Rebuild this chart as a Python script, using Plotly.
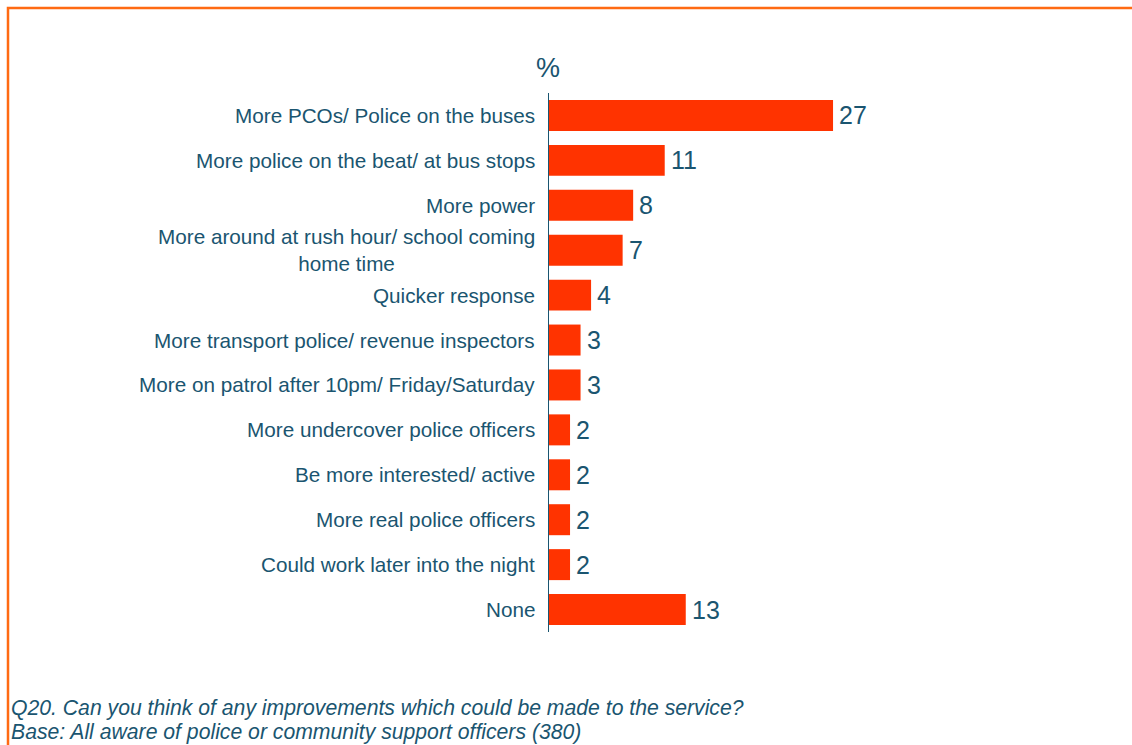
import plotly.graph_objects as go

# Survey responses (% of respondents)
categories = [
    "More PCOs/ Police on the buses",
    "More police on the beat/ at bus stops",
    "More power",
    "More around at rush hour/ school coming<br>home time",
    "Quicker response",
    "More transport police/ revenue inspectors",
    "More on patrol after 10pm/ Friday/Saturday",
    "More undercover police officers",
    "Be more interested/ active",
    "More real police officers",
    "Could work later into the night",
    "None",
]
values = [27, 11, 8, 7, 4, 3, 3, 2, 2, 2, 2, 13]

footnotes = [
    "Q20. Can you think of any improvements which could be made to the service?",
    "Base: All aware of police or community support officers (380)",
]

TEXT = "#1A5570"
BAR = "#FF3300"
FRAME = "#FF6A13"
FONT = "Liberation Sans, Arial, sans-serif"

W, H = 1132, 745
ML, MR, MT, MB = 549, 20, 93, 113
PW, PH = W - ML - MR, H - MT - MB


def px_x(px):
    return (px - ML) / PW


def px_y(py):
    return (H - MB - py) / PH


fig = go.Figure(
    go.Bar(
        x=values,
        y=categories,
        orientation="h",
        marker=dict(color=BAR, line=dict(width=0)),
        width=0.69,
        hoverinfo="skip",
    )
)

annotations = []
# category labels, right-aligned against the axis, multi-line centred
for cat in categories:
    annotations.append(dict(
        x=px_x(537), xref="paper", y=cat, yref="y",
        text=cat, showarrow=False, xanchor="right", yanchor="middle",
        align="center", font=dict(family=FONT, size=20.7, color=TEXT),
    ))
# value labels at the end of each bar
for cat, v in zip(categories, values):
    annotations.append(dict(
        x=v, xref="x", y=cat, yref="y", text=str(v), showarrow=False,
        xanchor="left", yanchor="middle", xshift=4,
        font=dict(family=FONT, size=25, color=TEXT),
    ))
# unit marker above the axis
annotations.append(dict(
    x=px_x(548), xref="paper", y=px_y(68), yref="paper", text="%",
    showarrow=False, xanchor="center", yanchor="middle",
    font=dict(family=FONT, size=27, color=TEXT),
))
# footnotes
for i, note in enumerate(footnotes):
    annotations.append(dict(
        x=px_x(9), xref="paper", y=px_y(708 + 24 * i), yref="paper",
        text=f"<i>{note}</i>", showarrow=False, xanchor="left",
        yanchor="middle", font=dict(family=FONT, size=21.2, color=TEXT),
    ))

# orange frame along the left and top edges
frame_path = (
    f"M {px_x(8)} {px_y(760)} L {px_x(8)} {px_y(8)} L {px_x(1140)} {px_y(8)}"
)
shapes = [dict(
    type="path", xref="paper", yref="paper", path=frame_path,
    line=dict(color=FRAME, width=2.5),
)]

fig.update_layout(
    width=W, height=H,
    margin=dict(l=ML, r=MR, t=MT, b=MB, pad=0),
    paper_bgcolor="white", plot_bgcolor="white",
    showlegend=False,
    xaxis=dict(range=[0, PW / 10.52], visible=False, fixedrange=True),
    yaxis=dict(
        autorange="reversed", showticklabels=False, ticks="",
        showline=True, linecolor=TEXT, linewidth=1.2, showgrid=False,
        zeroline=False, fixedrange=True,
    ),
    annotations=annotations,
    shapes=shapes,
)

fig.write_html("out.html", config={"displayModeBar": False})
